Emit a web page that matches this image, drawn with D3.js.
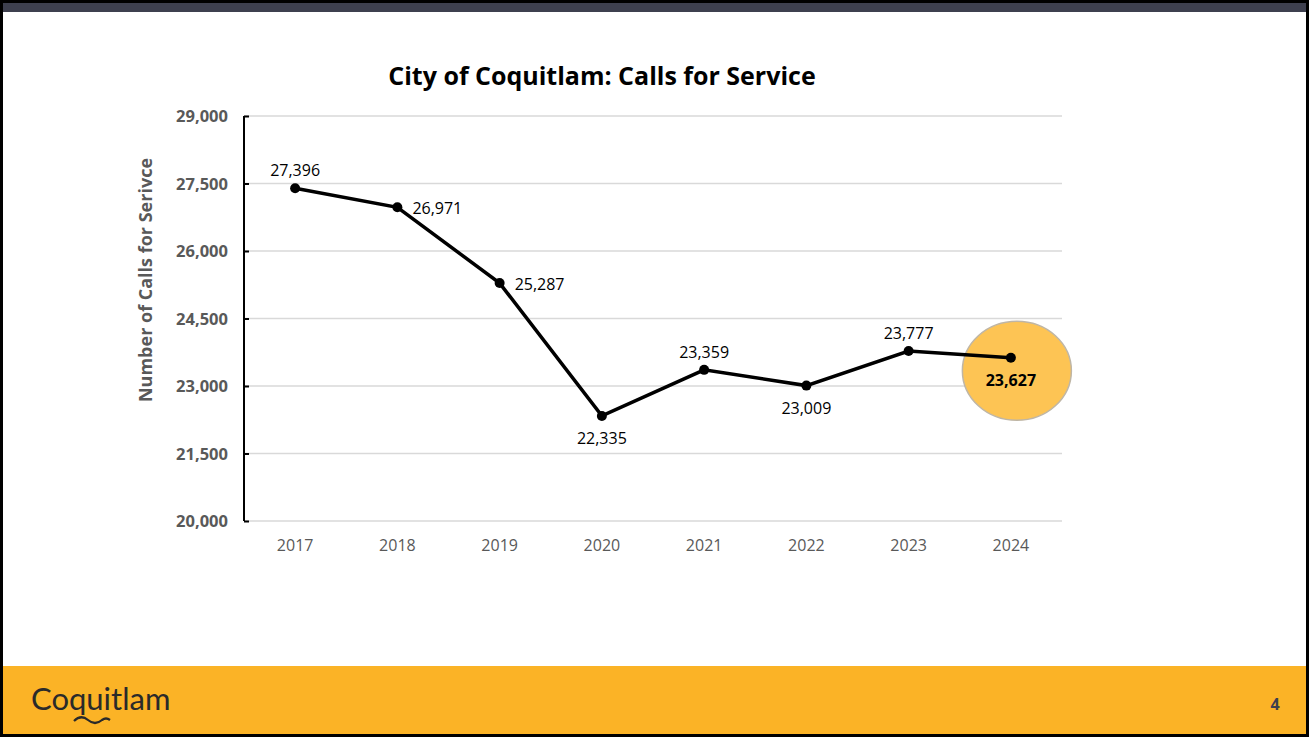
<!DOCTYPE html>
<html>
<head>
<meta charset="utf-8">
<script src="https://cdn.jsdelivr.net/npm/d3@7"></script>
<style>
  body { margin: 0; background: #fff; }
  svg { display: block; font-family: "Open Sans", sans-serif; }
</style>
</head>
<body>
<svg id="chart" width="1310" height="738"></svg>
<script>
const years = ["2017", "2018", "2019", "2020", "2021", "2022", "2023", "2024"];
const calls = [27396, 26971, 25287, 22335, 23359, 23009, 23777, 23627];
const labelPos = ["above", "right", "right", "below", "above", "below", "above", "below"];
const yTicks = [20000, 21500, 23000, 24500, 26000, 27500, 29000];

const svg = d3.select("#chart");

// slide frame
svg.append("rect").attr("x", 0).attr("y", 0).attr("width", 1310).attr("height", 738).attr("fill", "#fff");
svg.append("rect").attr("x", 2).attr("y", 3).attr("width", 1306).attr("height", 9).attr("fill", "#3e404f");
svg.append("rect").attr("x", 3).attr("y", 666).attr("width", 1304).attr("height", 69).attr("fill", "#fbb326");
svg.append("rect").attr("x", 1.5).attr("y", 1.5).attr("width", 1306).attr("height", 734)
  .attr("fill", "none").attr("stroke", "#000").attr("stroke-width", 3);

const plotL = 244, plotR = 1062, plotT = 116, plotB = 521;
const x = d3.scaleBand().domain(years).range([plotL, plotR]).padding(0);
const y = d3.scaleLinear().domain([20000, 29000]).range([plotB, plotT]);
const cx = d => x(d) + x.bandwidth() / 2;

// title
svg.append("text").attr("x", 602).attr("y", 85).attr("text-anchor", "middle")
  .attr("font-size", 25).attr("font-weight", "bold").attr("fill", "#000")
  .text("City of Coquitlam: Calls for Service");

// gridlines
svg.append("g").selectAll("line").data(yTicks).enter().append("line")
  .attr("x1", plotL).attr("x2", plotR)
  .attr("y1", d => y(d)).attr("y2", d => y(d))
  .attr("stroke", "#d9d9d9").attr("stroke-width", 1.3);

// y axis
const yAxis = svg.append("g").attr("transform", `translate(${plotL},0)`)
  .call(d3.axisRight(y).tickValues(yTicks).tickSize(5).tickFormat(""));
yAxis.select(".domain").attr("stroke", "#000").attr("stroke-width", 2).attr("d", `M0,${plotT}V${plotB}`);
yAxis.selectAll(".tick line").attr("stroke", "#000").attr("stroke-width", 2);

svg.append("g").selectAll("text").data(yTicks).enter().append("text")
  .attr("x", 228).attr("y", d => y(d) + 6).attr("text-anchor", "end")
  .attr("font-size", 16.5).attr("font-weight", "bold").attr("fill", "#595959")
  .text(d3.format(","));

// x labels
svg.append("g").selectAll("text").data(years).enter().append("text")
  .attr("x", d => cx(d)).attr("y", 551).attr("text-anchor", "middle")
  .attr("font-size", 16).attr("fill", "#595959").text(d => d);

// y title
svg.append("text").attr("transform", "translate(152,280) rotate(-90)")
  .attr("text-anchor", "middle").attr("font-size", 18).attr("font-weight", "bold")
  .attr("fill", "#595959").text("Number of Calls for Serivce");

// highlight ellipse for last year
const last = years.length - 1;
svg.append("ellipse").attr("cx", cx(years[last]) + 6).attr("cy", y(calls[last]) + 13)
  .attr("rx", 54.5).attr("ry", 49.5).attr("fill", "#fdc454").attr("stroke", "#bfb6a6").attr("stroke-width", 1.5);

// line + points
const pts = years.map((d, i) => ({ year: d, v: calls[i], pos: labelPos[i] }));
svg.append("path").datum(pts)
  .attr("fill", "none").attr("stroke", "#000").attr("stroke-width", 3.5)
  .attr("d", d3.line().x(d => cx(d.year)).y(d => y(d.v)));
svg.append("g").selectAll("circle").data(pts).enter().append("circle")
  .attr("cx", d => cx(d.year)).attr("cy", d => y(d.v)).attr("r", 5).attr("fill", "#000");

// data labels
svg.append("g").selectAll("text").data(pts).enter().append("text")
  .attr("x", d => d.pos === "right" ? cx(d.year) + 15 : cx(d.year))
  .attr("y", d => d.pos === "above" ? y(d.v) - 12 : d.pos === "below" ? y(d.v) + 28 : y(d.v) + 7)
  .attr("text-anchor", d => d.pos === "right" ? "start" : "middle")
  .attr("font-size", 16).attr("fill", "#000")
  .attr("font-weight", (d, i) => i === last ? "bold" : "normal")
  .text(d => d3.format(",")(d.v));

// footer
svg.append("text").attr("x", 31).attr("y", 710).attr("font-size", 31)
  .attr("font-family", "Lato, sans-serif").attr("fill", "#2a2a2a").text("Coquitlam");
svg.append("path").attr("d", "M74,721 q7,-7 14,-1 q7,6 14,0 q4,-3 8,0")
  .attr("fill", "none").attr("stroke", "#2a2a2a").attr("stroke-width", 2.2);
svg.append("text").attr("x", 1275).attr("y", 710).attr("text-anchor", "middle")
  .attr("font-size", 16).attr("font-weight", "bold").attr("fill", "#3e404f").text("4");
</script>
</body>
</html>
